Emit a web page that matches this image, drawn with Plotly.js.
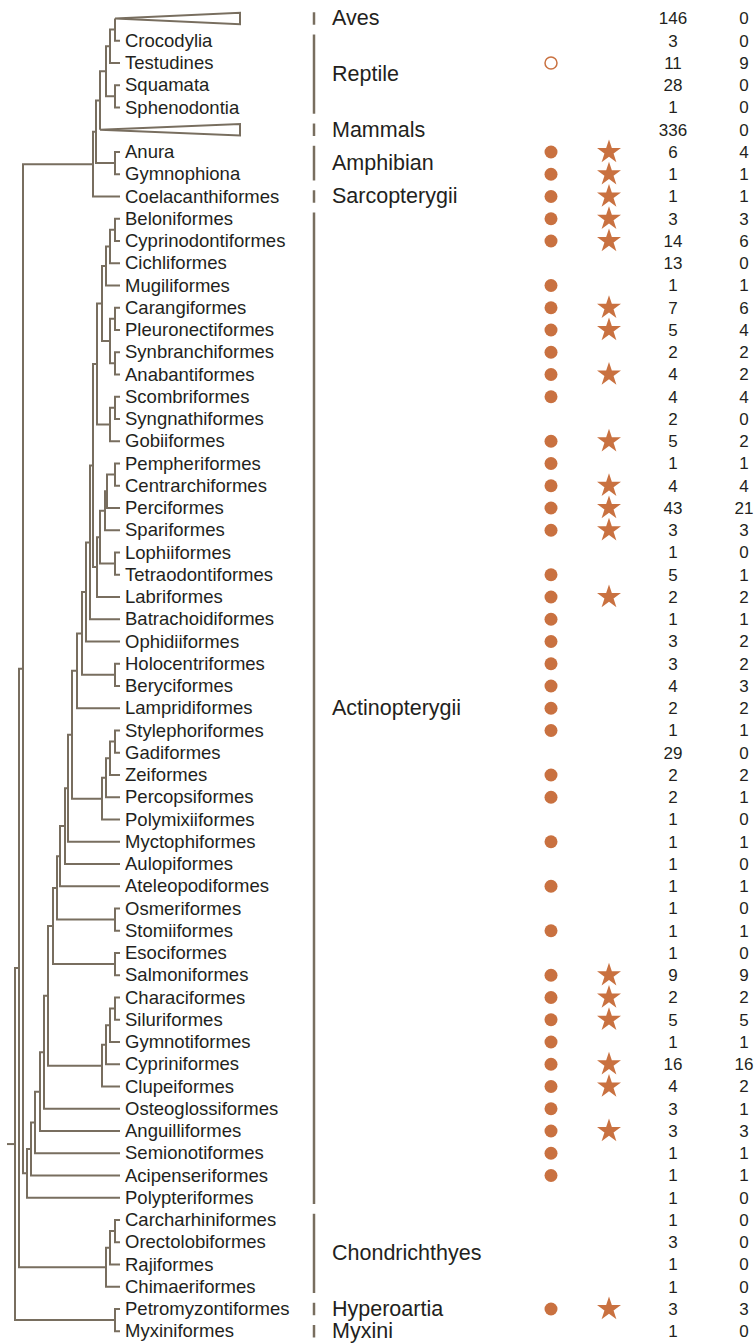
<!DOCTYPE html>
<html>
<head>
<meta charset="utf-8">
<script src="https://cdn.plot.ly/plotly-3.0.1.min.js"></script>
<style>html,body{margin:0;padding:0;background:#fff;}#chart{width:755px;height:1344px;}</style>
</head>
<body>
<div id="chart"></div>
<script>
// ---------------- DATA ----------------
const leaves = ["Aves","Crocodylia","Testudines","Squamata","Sphenodontia","Mammals","Anura","Gymnophiona","Coelacanthiformes",
"Beloniformes","Cyprinodontiformes","Cichliformes","Mugiliformes","Carangiformes","Pleuronectiformes","Synbranchiformes","Anabantiformes",
"Scombriformes","Syngnathiformes","Gobiiformes","Pempheriformes","Centrarchiformes","Perciformes","Spariformes","Lophiiformes",
"Tetraodontiformes","Labriformes","Batrachoidiformes","Ophidiiformes","Holocentriformes","Beryciformes","Lampridiformes",
"Stylephoriformes","Gadiformes","Zeiformes","Percopsiformes","Polymixiiformes","Myctophiformes","Aulopiformes","Ateleopodiformes",
"Osmeriformes","Stomiiformes","Esociformes","Salmoniformes","Characiformes","Siluriformes","Gymnotiformes","Cypriniformes",
"Clupeiformes","Osteoglossiformes","Anguilliformes","Semionotiformes","Acipenseriformes","Polypteriformes","Carcharhiniformes",
"Orectolobiformes","Rajiformes","Chimaeriformes","Petromyzontiformes","Myxiniformes"];

const count1 = [146,3,11,28,1,336,6,1,1,3,14,13,1,7,5,2,4,4,2,5,1,4,43,3,1,5,2,1,3,3,4,2,1,29,2,2,1,1,1,1,1,1,1,9,2,5,1,16,4,3,3,1,1,1,1,3,1,1,3,1];
const count2 = [0,0,9,0,0,0,4,1,1,3,6,0,1,6,4,2,2,4,0,2,1,4,21,3,0,1,2,1,2,2,3,2,1,0,2,1,0,1,0,1,0,1,0,9,2,5,1,16,2,1,3,1,1,0,0,0,0,0,3,0];

const circleTaxa = ["Anura","Gymnophiona","Coelacanthiformes","Beloniformes","Cyprinodontiformes","Mugiliformes","Carangiformes",
"Pleuronectiformes","Synbranchiformes","Anabantiformes","Scombriformes","Gobiiformes","Pempheriformes","Centrarchiformes","Perciformes",
"Spariformes","Tetraodontiformes","Labriformes","Batrachoidiformes","Ophidiiformes","Holocentriformes","Beryciformes","Lampridiformes",
"Stylephoriformes","Zeiformes","Percopsiformes","Myctophiformes","Ateleopodiformes","Stomiiformes","Salmoniformes","Characiformes",
"Siluriformes","Gymnotiformes","Cypriniformes","Clupeiformes","Osteoglossiformes","Anguilliformes","Semionotiformes","Acipenseriformes",
"Petromyzontiformes"];
const openCircleTaxa = ["Testudines"];
const starTaxa = ["Anura","Gymnophiona","Coelacanthiformes","Beloniformes","Cyprinodontiformes","Carangiformes","Pleuronectiformes",
"Anabantiformes","Gobiiformes","Centrarchiformes","Perciformes","Spariformes","Labriformes","Salmoniformes","Characiformes",
"Siluriformes","Cypriniformes","Clupeiformes","Anguilliformes","Petromyzontiformes"];

const collapsedTaxa = ["Aves","Mammals"];

const groupNames = ["Aves","Reptile","Mammals","Amphibian","Sarcopterygii","Actinopterygii","Chondrichthyes","Hyperoartia","Myxini"];
const groupFirst = ["Aves","Crocodylia","Mammals","Anura","Coelacanthiformes","Beloniformes","Carcharhiniformes","Petromyzontiformes","Myxiniformes"];
const groupLast  = ["Aves","Sphenodontia","Mammals","Gymnophiona","Coelacanthiformes","Polypteriformes","Chimaeriformes","Petromyzontiformes","Myxiniformes"];

// Tree topology: [node depth, upper child, lower child]; leaves are names
const TIP = 120;
const upperPercomorph = [97,
  [102, [106, [110, [115,"Beloniformes","Cyprinodontiformes"],"Cichliformes"],"Mugiliformes"],
        [110, [115,"Carangiformes","Pleuronectiformes"],[115,"Synbranchiformes","Anabantiformes"]]],
  [110, [115,"Scombriformes","Syngnathiformes"],"Gobiiformes"]];
const lowerPercomorph = [97,
  [100, [105, [107, [115,"Pempheriformes","Centrarchiformes"],"Perciformes"],"Spariformes"],
        [115,"Lophiiformes","Tetraodontiformes"]],
  "Labriformes"];
const paracanth = [102, [106, [110, [115,"Stylephoriformes","Gadiformes"],"Zeiformes"],"Percopsiformes"],"Polymixiiformes"];
const otomorpha = [102, [106, [110, [115,"Characiformes","Siluriformes"],"Gymnotiformes"],"Cypriniformes"],"Clupeiformes"];
const euteleost = [53,
  [57, [60, [65, [68, [72, [77, [82, [86, [90, [93, upperPercomorph, lowerPercomorph],"Batrachoidiformes"],"Ophidiiformes"],
      [115,"Holocentriformes","Beryciformes"]],"Lampridiformes"], paracanth],"Myctophiformes"],"Aulopiformes"],"Ateleopodiformes"],
      [115,"Osmeriformes","Stomiiformes"]],
  [115,"Esociformes","Salmoniformes"]];
const actinopterygii = [27, [31, [35, [40, [44, [48, euteleost, otomorpha],"Osteoglossiformes"],"Anguilliformes"],"Semionotiformes"],"Acipenseriformes"],"Polypteriformes"];
const sarcopterygii = [93, [96, [100, [106, [110, [115,"Aves","Crocodylia"],"Testudines"],[115,"Squamata","Sphenodontia"]],"Mammals"],
  [115,"Anura","Gymnophiona"]],"Coelacanthiformes"];
const chondrichthyes = [106, [110, [115,"Carcharhiniformes","Orectolobiformes"],"Rajiformes"],"Chimaeriformes"];
const tree = [15, [19, [23, sarcopterygii, actinopterygii], chondrichthyes], [115,"Petromyzontiformes","Myxiniformes"]];
const rootStemStart = 7;
const triangleEnd = 240;

// ---------------- BUILD ----------------
const idx = {}; leaves.forEach((n,i)=>idx[n]=i);
const lx=[], ly=[], tx=[], ty=[];
function walk(node){
  if (typeof node === "string") return {x: TIP, y: idx[node], name: node};
  const d = node[0];
  const kids = node.slice(1).map(walk);
  kids.forEach(k=>{ if (collapsedTaxa.includes(k.name)) { k.x = d;
      tx.push(d, triangleEnd, triangleEnd, d, null); ty.push(k.y, k.y-0.26, k.y+0.26, k.y, null);} });
  const a = kids[0], b = kids[kids.length-1];
  lx.push(a.x, d, d, b.x, null); ly.push(a.y, a.y, b.y, b.y, null);
  return {x: d, y: (a.y+b.y)/2};
}
const root = walk(tree);
lx.push(rootStemStart, tree[0], null); ly.push(root.y, root.y, null);

const brown = "#786e5f";
const orange = "#c97140";
const textCol = "#231f20";
const font = "Liberation Sans, Arial, sans-serif";
const tOff = 0.07; // small vertical nudge so text centres sit on the row lines

const traces = [];
traces.push({x:lx, y:ly, mode:"lines", line:{color:brown, width:2}, hoverinfo:"skip"});
traces.push({x:tx, y:ty, mode:"lines", line:{color:brown, width:2}, hoverinfo:"skip"});

const labeled = leaves.filter(n=>!collapsedTaxa.includes(n));
traces.push({x:labeled.map(()=>TIP+5), y:labeled.map(n=>idx[n]+tOff), mode:"text", text:labeled,
  textposition:"middle right", textfont:{family:font, size:18.5, color:textCol}, hoverinfo:"skip"});

// group bars
const gbx=[], gby=[];
groupNames.forEach((g,i)=>{
  const a = idx[groupFirst[i]], b = idx[groupLast[i]];
  gbx.push(314,314,null); gby.push(a-0.28, b+0.28, null);
});
traces.push({x:gbx, y:gby, mode:"lines", line:{color:brown, width:2.5}, hoverinfo:"skip"});
traces.push({x:groupNames.map(()=>332), y:groupNames.map((g,i)=>(idx[groupFirst[i]]+idx[groupLast[i]])/2 + tOff),
  mode:"text", text:groupNames, textposition:"middle right", textfont:{family:font, size:21.5, color:textCol}, hoverinfo:"skip"});

// markers
traces.push({x:circleTaxa.map(()=>551), y:circleTaxa.map(n=>idx[n]), mode:"markers",
  marker:{symbol:"circle", size:13, color:orange, line:{width:0}}, hoverinfo:"skip"});
traces.push({x:openCircleTaxa.map(()=>551), y:openCircleTaxa.map(n=>idx[n]), mode:"markers",
  marker:{symbol:"circle-open", size:12, color:orange, line:{width:1.5, color:orange}}, hoverinfo:"skip"});
traces.push({x:starTaxa.map(()=>609), y:starTaxa.map(n=>idx[n]), mode:"markers",
  marker:{symbol:"star", size:18, color:orange, line:{width:0}}, hoverinfo:"skip"});

// counts
traces.push({x:leaves.map(()=>673), y:leaves.map((n,i)=>i+tOff), mode:"text", text:count1.map(String),
  textposition:"middle center", textfont:{family:font, size:17, color:textCol}, hoverinfo:"skip"});
traces.push({x:leaves.map(()=>744), y:leaves.map((n,i)=>i+tOff), mode:"text", text:count2.map(String),
  textposition:"middle center", textfont:{family:font, size:17, color:textCol}, hoverinfo:"skip"});

const rowPx = 22.25, firstRowPx = 18.5, H = 1344, W = 755;
const layout = {
  width:W, height:H, margin:{l:0,r:0,t:0,b:0}, showlegend:false,
  paper_bgcolor:"#fff", plot_bgcolor:"#fff",
  xaxis:{range:[0,W], visible:false, fixedrange:true},
  yaxis:{range:[(H-firstRowPx)/rowPx, -firstRowPx/rowPx], visible:false, fixedrange:true}
};
Plotly.newPlot("chart", traces, layout, {displayModeBar:false, staticPlot:true});
</script>
</body>
</html>
